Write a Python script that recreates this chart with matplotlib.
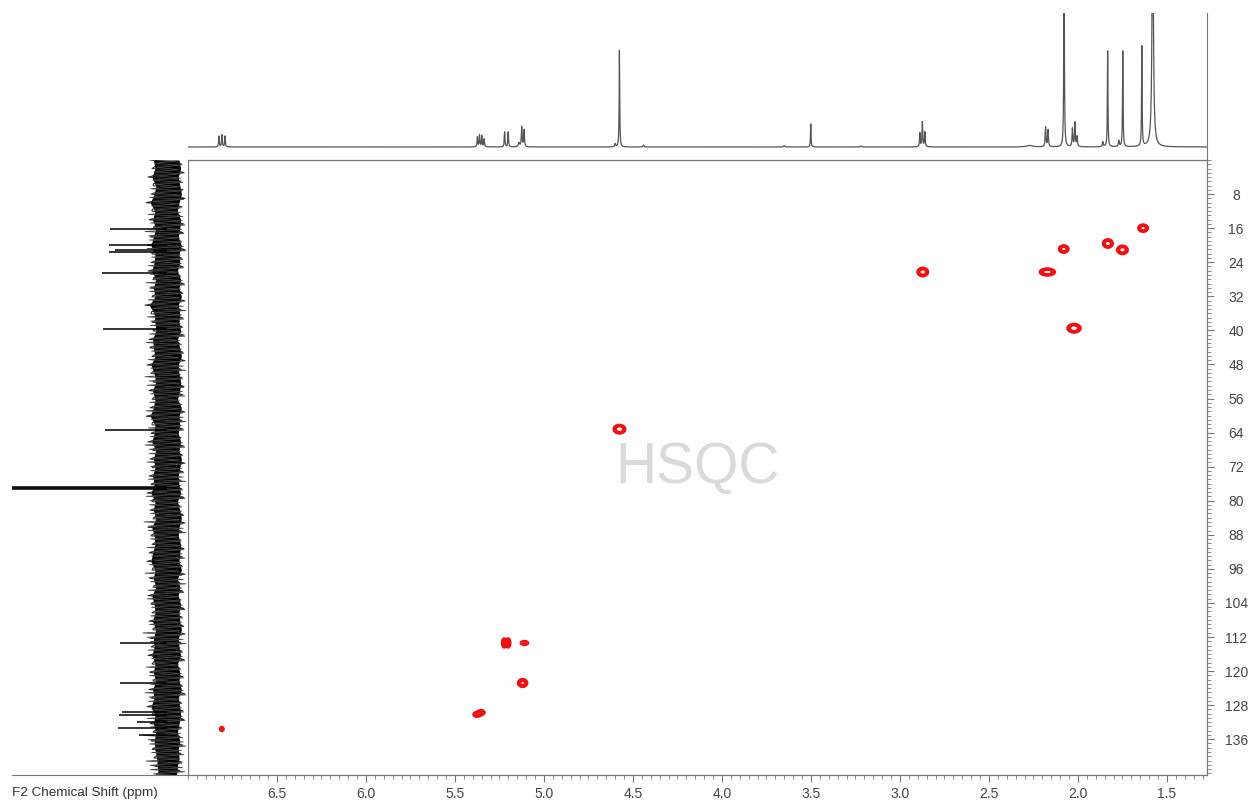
import numpy as np
import matplotlib.pyplot as plt
from matplotlib.ticker import MultipleLocator

plt.rcParams['font.family'] = ['Liberation Sans', 'DejaVu Sans']

# 1H projection (top): peak position ppm, height (px above baseline), half width ppm
h1_ppm = [6.826, 6.809, 6.792, 5.374, 5.362, 5.349, 5.336, 5.221, 5.201, 5.140, 5.125, 5.112,
          4.600, 4.576, 4.440, 3.650, 3.501, 3.220, 2.888, 2.874, 2.860, 2.270, 2.182, 2.168,
          2.078, 2.031, 2.017, 2.005, 1.860, 1.833, 1.770, 1.748, 1.641, 1.580]
h1_height = [11, 12, 11, 10, 12, 11, 8, 15, 15, 4, 20, 17,
             3, 98, 2, 1.5, 23, 1, 14, 25, 15, 1.5, 20, 17,
             230, 18, 24, 10, 5, 96, 6, 97, 100, 260]
h1_width = [0.0022, 0.0022, 0.0022, 0.0022, 0.0022, 0.0022, 0.0022, 0.0022, 0.0022, 0.004, 0.0025, 0.0025,
            0.003, 0.0018, 0.003, 0.003, 0.0018, 0.003, 0.0022, 0.0022, 0.0022, 0.02, 0.0025, 0.0025,
            0.0018, 0.0025, 0.0025, 0.0025, 0.003, 0.0018, 0.003, 0.0018, 0.0018, 0.0042]

# 13C projection (left): peak position ppm, height (px from baseline)
c13_ppm = [16.3, 20.0, 21.1, 21.6, 26.5, 39.6, 63.3, 76.72, 77.04, 77.36,
           113.5, 122.9, 129.5, 130.4, 131.9, 133.4, 134.9]
c13_height = [57, 58, 52, 58, 65, 64, 62, 190, 200, 185,
              47, 47, 45, 48, 30, 49, 28]

# 13C noise band edges, read every 2 ppm from 0 to 144
c13_noise_hi = [17, 15, 19, 14, 16, 21, 15, 18, 14, 17,
                20, 15, 16, 19, 14, 17, 15, 22, 16, 15,
                14, 18, 17, 15, 20, 16, 14, 18, 15, 17,
                21, 15, 16, 19, 14, 17, 15, 18, 16, 20,
                15, 17, 14, 19, 16, 15, 18, 20, 15, 17,
                14, 19, 16, 15, 18, 14, 17, 16, 19, 15,
                17, 14, 18, 16, 20, 15, 17, 14, 16, 15,
                13, 12, 11]
c13_noise_lo = [-15, -17, -14, -16, -18, -15, -13, -17, -16, -14,
                -18, -15, -16, -13, -17, -15, -18, -14, -16, -15,
                -17, -13, -16, -18, -14, -15, -17, -16, -13, -18,
                -15, -16, -14, -17, -15, -18, -16, -14, -15, -17,
                -13, -16, -18, -15, -14, -17, -16, -15, -18, -13,
                -16, -14, -17, -15, -16, -18, -14, -15, -17, -13,
                -16, -15, -18, -14, -16, -17, -15, -13, -16, -14,
                -15, -13, -12]

# HSQC cross peaks: 1H ppm, 13C ppm, relative intensity, widths (sigma, ppm)
hsqc_h = [6.810, 5.224, 5.201, 5.110, 5.120, 5.378, 5.352, 4.576, 2.872, 2.172,
          2.080, 2.022, 1.832, 1.750, 1.634, 1.262]
hsqc_c = [133.6, 113.4, 113.4, 113.4, 122.8, 130.2, 129.7, 63.2, 26.3, 26.3,
          20.9, 39.5, 19.6, 21.1, 16.0, 29.4]
hsqc_amp = [0.3, 0.6, 0.6, 0.2, 0.7, 0.24, 0.24, 1.0, 0.9, 0.9,
            0.8, 1.0, 0.9, 0.9, 0.8, 0.25]
hsqc_sh = [0.008, 0.007, 0.007, 0.019, 0.014, 0.015, 0.015, 0.016, 0.015, 0.021,
           0.014, 0.018, 0.014, 0.015, 0.014, 0.008]
hsqc_sc = [0.35, 0.6, 0.6, 0.45, 0.5, 0.45, 0.45, 0.5, 0.5, 0.42,
           0.45, 0.5, 0.5, 0.5, 0.45, 0.40]

xticks = [6.5, 6.0, 5.5, 5.0, 4.5, 4.0, 3.5, 3.0, 2.5, 2.0, 1.5]
yticks = [8, 16, 24, 32, 40, 48, 56, 64, 72, 80, 88, 96, 104, 112, 120, 128, 136]

x_lim = (7.0, 1.275)
y_lim = (144.4, 0)

W, H = 1248, 801
fig = plt.figure(figsize=(W / 100, H / 100), dpi=100)
ax = fig.add_axes([188 / W, 26 / H, 1019 / W, 615 / H])
ax_top = fig.add_axes([188 / W, 641 / H, 1019 / W, 147 / H], sharex=ax)
ax_left = fig.add_axes([12 / W, 26 / H, 176 / W, 615 / H], sharey=ax)

# main HSQC contour map
gx = np.arange(x_lim[1], x_lim[0], 0.003)
gy = np.arange(0, 145, 0.15)
X, Y = np.meshgrid(gx, gy)
Z = np.zeros_like(X)
for h, c, a, sh, sc in zip(hsqc_h, hsqc_c, hsqc_amp, hsqc_sh, hsqc_sc):
    Z += a * np.exp(-((X - h) ** 2 / (2 * sh ** 2) + (Y - c) ** 2 / (2 * sc ** 2)))
ax.contour(X, Y, Z, levels=[0.1, 0.17, 0.25, 0.35, 0.47], colors='#f01010', linewidths=1.3)

ax.text(0.5, 0.5, 'HSQC', transform=ax.transAxes, ha='center', va='center',
        fontsize=41, color='#dadada', zorder=0)

ax.set_xlim(*x_lim)
ax.set_ylim(*y_lim)
ax.set_xticks(xticks)
ax.set_xticklabels([f'{t:.1f}' for t in xticks])
ax.xaxis.set_minor_locator(MultipleLocator(0.05))
ax.set_yticks(yticks)
ax.yaxis.set_minor_locator(MultipleLocator(1))
ax.yaxis.tick_right()
ax.tick_params(axis='both', which='major', length=5, width=0.8, color='#777777',
               labelsize=10, labelcolor='#444444')
ax.tick_params(axis='both', which='minor', length=3, width=0.6, color='#777777')
ax.tick_params(axis='x', which='major', pad=4)
ax.tick_params(axis='y', which='major', pad=16)
plt.setp(ax.yaxis.get_majorticklabels(), ha='center')
for s in ax.spines.values():
    s.set_color('#777777')
    s.set_linewidth(0.9)

# 1H projection
hx = np.arange(x_lim[1], x_lim[0], 0.0004)
hy = np.zeros_like(hx)
for p, hh, w in zip(h1_ppm, h1_height, h1_width):
    hy += hh / (1 + ((hx - p) / w) ** 2)
ax_top.plot(hx, hy, color='#555555', lw=0.9)
ax_top.set_ylim(-13, 134)
ax_top.tick_params(which='both', bottom=False, labelbottom=False, left=False, labelleft=False)
for k in ['top', 'left', 'bottom']:
    ax_top.spines[k].set_visible(False)
ax_top.spines['right'].set_color('#777777')
ax_top.patch.set_alpha(0)

# 13C projection: noise band (solid core plus zigzag to the read edges) and peaks
noise_ppm = np.linspace(0, 144.4, len(c13_noise_hi))
core_lo = [v * 0.8 for v in c13_noise_lo]
core_hi = [v * 0.8 for v in c13_noise_hi]
ax_left.fill_betweenx(noise_ppm, core_lo, core_hi, color='black', lw=0)
step = noise_ppm[1] - noise_ppm[0]
zz_x, zz_y = [], []
for y, lo, hi in zip(noise_ppm, c13_noise_lo, c13_noise_hi):
    zz_x += [hi, lo * 0.6, lo, hi * 0.7]
    zz_y += [y, y + step * 0.25, y + step * 0.5, y + step * 0.75]
ax_left.plot(zz_x, zz_y, color='#222222', lw=0.7)
zz_x, zz_y = [], []
for y, lo, hi in zip(noise_ppm, c13_noise_lo[::-1], c13_noise_hi[::-1]):
    zz_x += [lo * 0.9, hi * 1.1, lo * 1.05, hi * 0.9]
    zz_y += [y + step * 0.12, y + step * 0.37, y + step * 0.62, y + step * 0.87]
ax_left.plot(zz_x, zz_y, color='#444444', lw=0.6)
ax_left.hlines(c13_ppm, 0, c13_height, color='black', lw=1.1)
ax_left.set_xlim(155, -21)
ax_left.tick_params(which='both', bottom=False, labelbottom=False, left=False, labelleft=False,
                    right=False, labelright=False)
for k in ['top', 'left', 'right']:
    ax_left.spines[k].set_visible(False)
ax_left.spines['bottom'].set_color('#777777')

fig.text(12 / W, 1 - 793 / H, 'F2 Chemical Shift (ppm)', ha='left', va='center',
         fontsize=9.7, color='#333333')

fig.savefig('out.png', dpi=100)
